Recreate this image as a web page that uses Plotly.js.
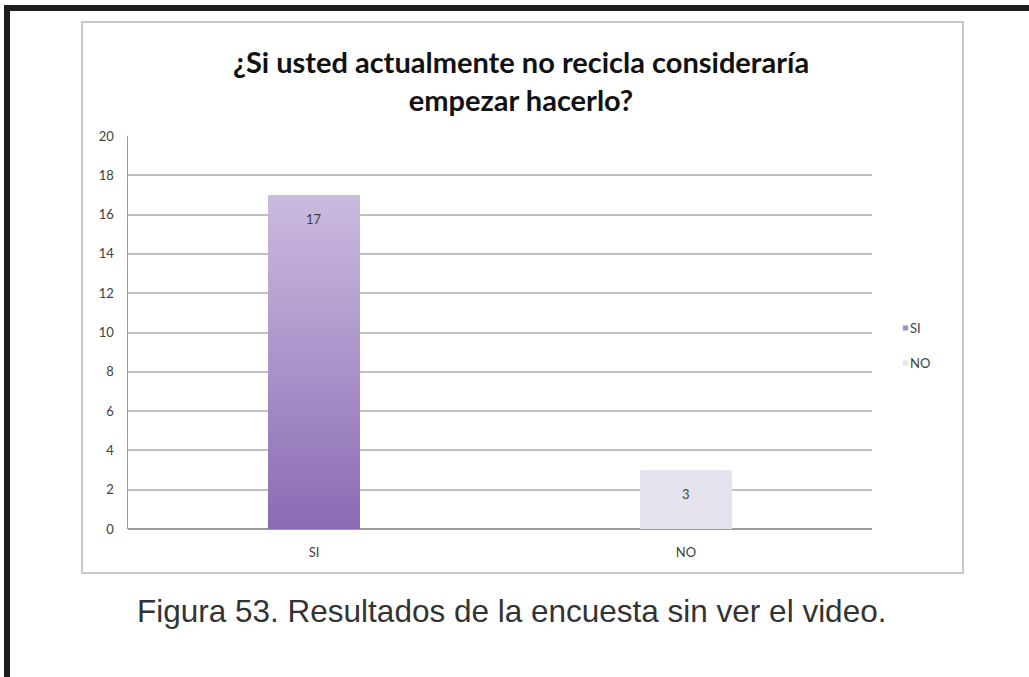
<!DOCTYPE html>
<html>
<head>
<meta charset="utf-8">
<script src="https://cdn.plot.ly/plotly-3.0.1.min.js"></script>
<style>
html,body{margin:0;padding:0;background:#fff;}
#chart{width:1029px;height:677px;}
</style>
</head>
<body>
<div id="chart"></div>
<script>
// ---- data ----
const categories = ['SI', 'NO'];
const values = [17, 3];
const seriesNames = ['SI', 'NO'];
const titleText = '¿Si usted actualmente no recicla consideraría<br>empezar hacerlo?';
const captionText = 'Figura 53. Resultados de la encuesta sin ver el video.';
const yTicks = [0, 2, 4, 6, 8, 10, 12, 14, 16, 18, 20];

// ---- geometry (pixels) ----
const W = 1029, H = 677;
const L = 128, R = 872, T = 136, B = 529;
const px = x => (x - L) / (R - L);
const py = y => (B - y) / (B - T);

const colors = ['#a58ac6', '#e6e3ef'];
const tickFont = {family: 'Lato, sans-serif', size: 13, color: '#404040'};
const legendNames = ['legend', 'legend2'];
const legendY = [328, 363];

const traces = categories.map((c, i) => ({
  type: 'bar',
  name: seriesNames[i],
  legend: legendNames[i],
  x: [c],
  y: [values[i]],
  width: 0.247,
  marker: {color: colors[i], line: {width: 0}},
  hoverinfo: 'skip'
}));

const annotations = categories.map((c, i) => ({
  x: c, y: values[i], xref: 'x', yref: 'y',
  text: String(values[i]), showarrow: false,
  yshift: -24, font: {family: 'Lato, sans-serif', size: 13, color: '#404040'}
}));
annotations.push({
  xref: 'paper', yref: 'paper', x: px(511), y: py(611),
  xanchor: 'center', yanchor: 'middle',
  text: captionText, showarrow: false,
  font: {family: 'Liberation Sans, Arial, sans-serif', size: 31.5, color: '#333333'}
});

const shapes = [
  {type: 'line', xref: 'paper', yref: 'paper', x0: px(7), x1: px(7), y0: py(5), y1: py(690), line: {color: '#1e1e1e', width: 6}},
  {type: 'line', xref: 'paper', yref: 'paper', x0: px(4), x1: px(1040), y0: py(8), y1: py(8), line: {color: '#1e1e1e', width: 6}},
  {type: 'rect', xref: 'paper', yref: 'paper', x0: px(82), x1: px(963), y0: py(22), y1: py(573), line: {color: '#c9c9c9', width: 2}, layer: 'below'}
];

const legendStyle = y => ({
  x: px(870), y: py(y), xanchor: 'left', yanchor: 'middle',
  font: {family: 'Lato, sans-serif', size: 13, color: '#404040'},
  bgcolor: 'rgba(0,0,0,0)', borderwidth: 0
});

const layout = {
  width: W, height: H,
  margin: {l: L, r: W - R, t: T, b: H - B, pad: 0},
  paper_bgcolor: '#ffffff', plot_bgcolor: '#ffffff',
  barmode: 'stack',
  title: {
    text: titleText,
    font: {family: 'Lato, sans-serif', size: 29, color: '#111111', weight: 'bold'},
    x: px(521), xanchor: 'center', xref: 'paper',
    y: 1 - 73 / H, yanchor: 'middle'
  },
  xaxis: {
    type: 'category', categoryarray: categories,
    showgrid: false, zeroline: false, showline: false, ticks: '',
    tickfont: tickFont, ticklabelstandoff: 14
  },
  yaxis: {
    range: [0, 20], tickvals: yTicks, ticktext: yTicks.map(String),
    showgrid: true, gridcolor: '#bfbfbf', gridwidth: 2,
    zeroline: true, zerolinecolor: '#9a9a9a', zerolinewidth: 1.5,
    showline: true, linecolor: '#9a9a9a', linewidth: 1.5,
    ticks: '', ticklabelstandoff: 10,
    tickfont: tickFont
  },
  legend: legendStyle(legendY[0]),
  legend2: legendStyle(legendY[1]),
  showlegend: true,
  annotations: annotations,
  shapes: shapes
};

Plotly.newPlot('chart', traces, layout, {displayModeBar: false, staticPlot: true}).then(gd => {
  const svg = gd.querySelector('svg.main-svg');
  const ns = 'http://www.w3.org/2000/svg';
  let defs = svg.querySelector('defs');
  if (!defs) { defs = document.createElementNS(ns, 'defs'); svg.insertBefore(defs, svg.firstChild); }
  const g = document.createElementNS(ns, 'linearGradient');
  g.setAttribute('id', 'barGrad');
  g.setAttribute('x1', '0'); g.setAttribute('y1', '0'); g.setAttribute('x2', '0'); g.setAttribute('y2', '1');
  [['0', '#cbbbdf'], ['1', '#8a6bb4']].forEach(([o, c]) => {
    const s = document.createElementNS(ns, 'stop');
    s.setAttribute('offset', o); s.setAttribute('stop-color', c);
    g.appendChild(s);
  });
  defs.appendChild(g);
  const bars = gd.querySelectorAll('.barlayer .trace');
  if (bars[0]) bars[0].querySelectorAll('path').forEach(p => { p.style.fill = 'url(#barGrad)'; });
  // smaller legend swatches, placed close to the text
  gd.querySelectorAll('.legendpoints path').forEach(p => {
    p.setAttribute('d', 'M13,-2.5h5v5h-5z');
  });
});
</script>
</body>
</html>
